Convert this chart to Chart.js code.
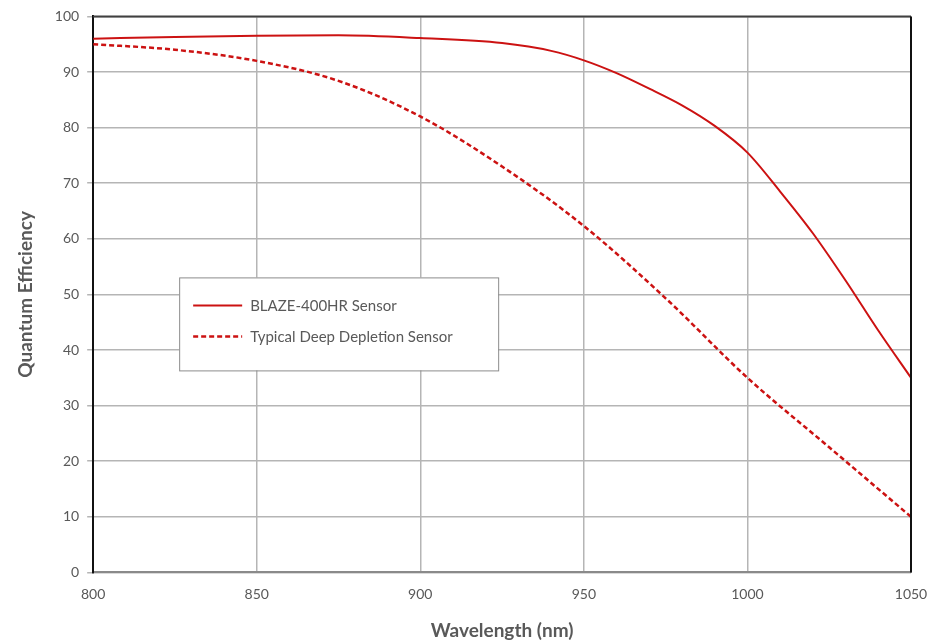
<!DOCTYPE html>
<html>
<head>
<meta charset="utf-8">
<script src="https://cdn.jsdelivr.net/npm/chart.js@4/dist/chart.umd.min.js"></script>
<style>
  html, body { margin: 0; padding: 0; background: #fff; }
  #wrap { width: 939px; height: 642px; }
</style>
</head>
<body>
<div id="wrap"><canvas id="qeChart"></canvas></div>
<script>
const blazeNm = [800, 825, 850, 875, 900, 925, 940, 950, 960, 970, 980, 990, 1000, 1010, 1020, 1030, 1040, 1050];
const blazeQE = [96, 96.3, 96.5, 96.6, 96.1, 95.2, 93.8, 92.1, 89.8, 87, 84, 80.3, 75.5, 68.5, 61, 52.5, 43.5, 35];
const deepNm = [800, 825, 850, 875, 900, 925, 950, 975, 1000, 1025, 1050];
const deepQE = [95, 94, 92, 88.4, 82, 73, 62.3, 49.3, 35, 22.5, 10];
const xTicks = [800, 850, 900, 950, 1000, 1050];
const yTicks = [0, 10, 20, 30, 40, 50, 60, 70, 80, 90, 100];

const red = '#cc1212';
const textGray = '#595959';
const fontFam = 'Lato, "Open Sans", sans-serif';

const toPoints = (xs, ys) => xs.map((x, i) => ({ x: x, y: ys[i] }));

// frame + legend box inside the plot
const framePlugin = {
    id: 'frame',
    afterDraw(chart) {
        const { ctx, chartArea: a } = chart;
        ctx.save();
        ctx.lineWidth = 2;
        ctx.strokeStyle = '#404040';
        ctx.beginPath();
        ctx.moveTo(a.left, a.top); ctx.lineTo(a.right, a.top);
        ctx.stroke();
        ctx.strokeStyle = '#111';
        ctx.beginPath();
        ctx.moveTo(a.right, a.top); ctx.lineTo(a.right, a.bottom);
        ctx.stroke();

        // legend
        const bx = a.left + 86, by = a.top + 261, bw = 319, bh = 93;
        ctx.fillStyle = '#fff';
        ctx.fillRect(bx, by, bw, bh);
        ctx.lineWidth = 1;
        ctx.strokeStyle = '#8c8c8c';
        ctx.strokeRect(bx + 0.5, by + 0.5, bw, bh);
        chart.data.datasets.forEach((ds, i) => {
            const y = by + 28 + i * 31;
            ctx.strokeStyle = ds.borderColor;
            ctx.lineWidth = ds.borderWidth;
            ctx.setLineDash(ds.borderDash || []);
            ctx.beginPath();
            ctx.moveTo(bx + 14, y); ctx.lineTo(bx + 63, y);
            ctx.stroke();
            ctx.setLineDash([]);
            ctx.fillStyle = textGray;
            ctx.font = '15px ' + fontFam;
            ctx.textBaseline = 'middle';
            ctx.fillText(ds.label, bx + 71, y + 1);
        });
        ctx.restore();
    }
};

new Chart(document.getElementById('qeChart'), {
    type: 'line',
    data: {
        datasets: [{
            label: 'BLAZE-400HR Sensor',
            data: toPoints(blazeNm, blazeQE),
            borderColor: red,
            borderWidth: 2,
            pointRadius: 0,
            cubicInterpolationMode: 'monotone'
        }, {
            label: 'Typical Deep Depletion Sensor',
            data: toPoints(deepNm, deepQE),
            borderColor: red,
            borderWidth: 2.5,
            borderDash: [5, 3],
            pointRadius: 0,
            cubicInterpolationMode: 'monotone'
        }]
    },
    options: {
        responsive: true,
        maintainAspectRatio: false,
        animation: false,
        layout: { padding: { left: 14, right: 28, top: 8, bottom: 0 } },
        plugins: { legend: { display: false }, tooltip: { enabled: false } },
        scales: {
            x: {
                type: 'linear',
                min: 800,
                max: 1050,
                afterBuildTicks: s => { s.ticks = xTicks.map(v => ({ value: v })); },
                afterFit: s => { s.paddingRight = 0; },
                ticks: {
                    color: textGray,
                    font: { family: fontFam, size: 14 },
                    padding: 14,
                    callback: v => String(v)
                },
                grid: { color: '#b5b5b5', lineWidth: 1.5, drawTicks: false },
                border: { color: '#8a8a8a', width: 2 },
                title: {
                    display: true,
                    text: 'Wavelength (nm)',
                    color: textGray,
                    font: { family: fontFam, size: 19, weight: 'bold' },
                    padding: { top: 2, bottom: 0 }
                }
            },
            y: {
                min: 0,
                max: 100,
                afterBuildTicks: s => { s.ticks = yTicks.map(v => ({ value: v })); },
                ticks: { color: textGray, font: { family: fontFam, size: 14 }, padding: 8 },
                grid: { color: '#b5b5b5', lineWidth: 1.5, drawTicks: true, tickLength: 6 },
                border: { color: '#111', width: 2 },
                title: {
                    display: true,
                    text: 'Quantum Efficiency',
                    color: textGray,
                    font: { family: fontFam, size: 19, weight: 'bold' },
                    padding: { top: 0, bottom: 10 }
                }
            }
        }
    },
    plugins: [framePlugin]
});
</script>
</body>
</html>
